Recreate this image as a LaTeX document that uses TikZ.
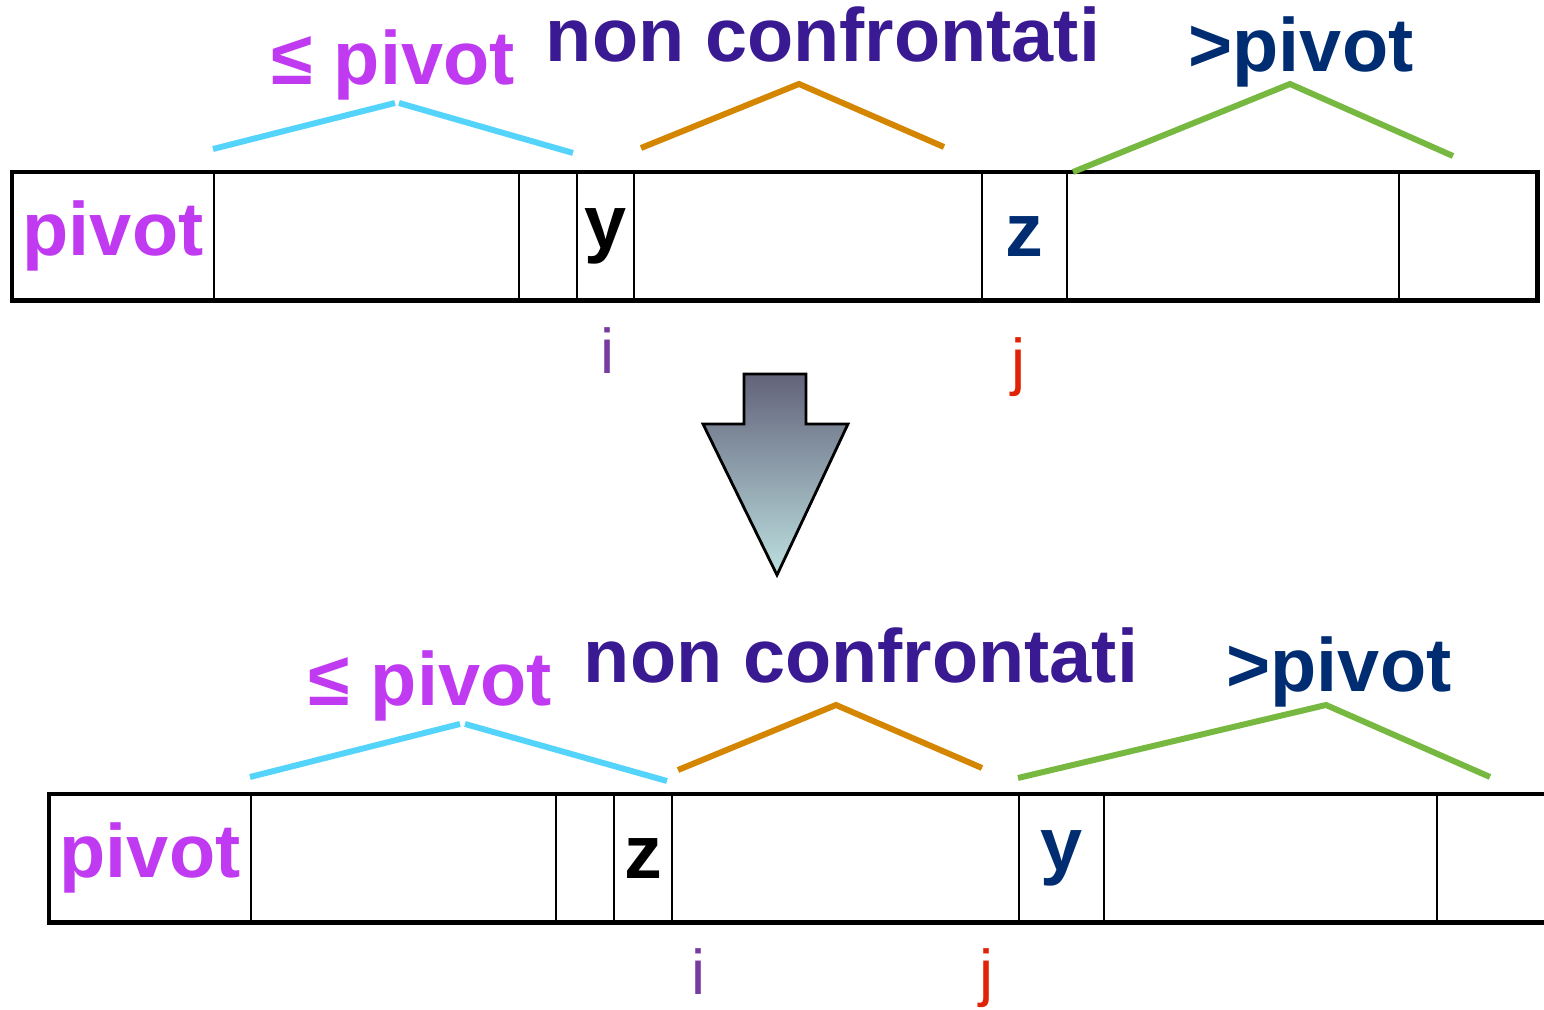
\documentclass[tikz,border=0pt]{standalone}
\usepackage{fontspec}
\setmainfont{Liberation Sans}
\usepackage{xcolor}
\usepackage{tikz}
\usetikzlibrary{positioning}
\definecolor{mymagenta}{RGB}{191,58,240}
\definecolor{mypurple}{RGB}{58,26,146}
\definecolor{mynavy}{RGB}{0,45,114}
\definecolor{mycyan}{RGB}{85,212,251}
\definecolor{myorange}{RGB}{212,134,0}
\definecolor{mygreen}{RGB}{118,184,64}
\definecolor{myviolet}{RGB}{120,60,160}
\definecolor{myred}{RGB}{225,35,5}
\definecolor{arrowtop}{RGB}{98,99,122}
\definecolor{arrowbot}{RGB}{189,224,224}
\newcommand{\cellfont}{\fontsize{21.5}{24}\selectfont\bfseries}
\newcommand{\idxfont}{\fontsize{18}{20}\selectfont}

\begin{document}
\begin{tikzpicture}[x=0.01cm, y=-0.01cm,
    cell/.style={draw, line width=0.6pt, minimum height=1.28cm, inner sep=0pt, outer sep=0pt, font=\cellfont},
    heading/.style={anchor=base, inner sep=0pt, font=\cellfont},
    index/.style={anchor=base, inner sep=0pt, font=\idxfont},
    brace/.style={line width=1.7pt}]
    \useasboundingbox (0,0) rectangle (1544,1010);

    % array before the swap
    \node[cell, minimum width=2.02cm, anchor=north west, text=mymagenta] (a1) at (12,172) {pivot};
    \node[cell, minimum width=3.05cm, right=0pt of a1] (a2) {};
    \node[cell, minimum width=0.58cm, right=0pt of a2] (a3) {};
    \node[cell, minimum width=0.57cm, right=0pt of a3] (a4) {y};
    \node[cell, minimum width=3.47cm, right=0pt of a4] (a5) {};
    \node[cell, minimum width=0.85cm, right=0pt of a5, text=mynavy] (a6) {z};
    \node[cell, minimum width=3.32cm, right=0pt of a6] (a7) {};
    \node[cell, minimum width=1.39cm, right=0pt of a7] (a8) {};
    \draw[line width=1.4pt] (a1.north west) rectangle (a8.south east);

    \node[heading, text=mymagenta] (le1) at (393,85) {≤ pivot};
    \node[heading, text=mypurple] (nc1) at (823,62) {non confrontati};
    \node[heading, text=mynavy] (gt1) at (1301,72) {>pivot};

    \draw[brace, mycyan] (213,149) -- (395,103);
    \draw[brace, mycyan] (399,103) -- (573,153);
    \draw[brace, myorange] (641,148) -- (799,84) -- (944,147);
    \draw[brace, mygreen] (1073,172) -- (1290,84) -- (1453,156);

    \node[index, text=myviolet] (i1) at (608,374) {i};
    \node[index, text=myred] (j1) at (1019,384) {j};

    % swap arrow
    \draw[line width=0.8pt, top color=arrowtop, bottom color=arrowbot]
        (744,374) -- (806,374) -- (806,424) -- (848,424) -- (777,575) -- (703,424) -- (744,424) -- cycle;

    % array after the swap
    \node[cell, minimum width=2.02cm, anchor=north west, text=mymagenta] (b1) at (49,794) {pivot};
    \node[cell, minimum width=3.05cm, right=0pt of b1] (b2) {};
    \node[cell, minimum width=0.58cm, right=0pt of b2] (b3) {};
    \node[cell, minimum width=0.58cm, right=0pt of b3] (b4) {z};
    \node[cell, minimum width=3.46cm, right=0pt of b4] (b5) {};
    \node[cell, minimum width=0.85cm, right=0pt of b5, text=mynavy] (b6) {y};
    \node[cell, minimum width=3.33cm, right=0pt of b6] (b7) {};
    \node[cell, minimum width=1.39cm, right=0pt of b7] (b8) {};
    \draw[line width=1.4pt] (b1.north west) rectangle (b8.south east);

    \node[heading, text=mymagenta] (le2) at (430,706) {≤ pivot};
    \node[heading, text=mypurple] (nc2) at (861,683) {non confrontati};
    \node[heading, text=mynavy] (gt2) at (1339,692) {>pivot};

    \draw[brace, mycyan] (250,777) -- (460,724);
    \draw[brace, mycyan] (465,724) -- (667,781);
    \draw[brace, myorange] (678,770) -- (836,705) -- (982,768);
    \draw[brace, mygreen] (1018,778) -- (1326,705) -- (1490,777);

    \node[index, text=myviolet] (i2) at (699,995) {i};
    \node[index, text=myred] (j2) at (987,995) {j};
\end{tikzpicture}
\end{document}
